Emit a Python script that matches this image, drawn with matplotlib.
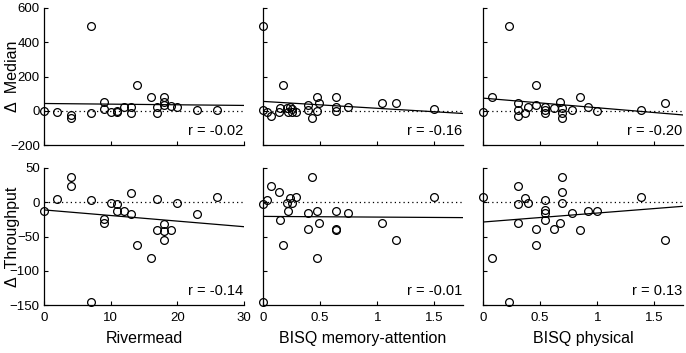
import matplotlib.pyplot as plt
import numpy as np

plt.rcParams['font.family'] = ['Liberation Sans', 'DejaVu Sans']

# x values (predictors)
riv_med = [0, 2, 4, 4, 7, 7, 9, 9, 10, 11, 11, 12, 13, 13, 14, 16, 17, 17, 18, 18, 18, 19, 20, 23, 26]
med_riv = [-4, -8, -23, -43, 493, -14, 49, 12, -8, -8, 0, 21, 21, -14, 148, 82, 21, -14, 82, 49, 35, 29, 21, 6, 6]
riv_thr = [0, 2, 4, 4, 7, 7, 9, 9, 10, 11, 11, 12, 13, 13, 14, 16, 17, 17, 18, 18, 18, 19, 20, 23, 26]
thr_riv = [-13.5, 5, 37, 23, 3, -146, -25, -30, -1.5, -2.5, -13.5, -13.5, -17, 13.5, -62, -82, 5, -40, -32, -42, -55, -40, -1.5, -17, 8]

mem_med = [0, 0, 0.035, 0.073, 0.14, 0.146, 0.175, 0.21, 0.22, 0.234, 0.25, 0.257, 0.29,
           0.395, 0.395, 0.43, 0.47, 0.47, 0.49, 0.64, 0.64, 0.64, 0.745, 1.04, 1.16, 1.5]
med_mem = [493, 6, -10, -29, -10, 16, 148, 16, -10, 21, 12, -10, -10,
           35, 6, -43, 82, -4, 45, 82, 21, -4, 21, 45, 45, 10]
mem_thr = [0, 0, 0.035, 0.073, 0.14, 0.146, 0.175, 0.21, 0.22, 0.24, 0.25, 0.29, 0.395,
           0.395, 0.43, 0.47, 0.47, 0.49, 0.64, 0.64, 0.64, 0.745, 1.04, 1.16, 1.5]
thr_mem = [-146, -2.4, 3.4, 23, 14.5, -25.6, -62, -1.5, -13, 5.8, -1.5, 7, -16,
           -39, 37, -81, -13, -30, -13, -39, -41, -16, -31, -55, 8]

phy_med = [0, 0.08, 0.23, 0.31, 0.31, 0.31, 0.37, 0.39, 0.46, 0.46, 0.545, 0.545, 0.545,
           0.62, 0.67, 0.69, 0.69, 0.69, 0.78, 0.85, 0.92, 1.0, 1.38, 1.59]
med_phy = [-10, 82, 493, 45, 2, -29, -14, 21, 148, 31, 21, 2, -14,
           16, 49, 16, -14, -43, 6, 82, 21, -4, 6, 45]
phy_thr = [0, 0.08, 0.23, 0.31, 0.31, 0.31, 0.37, 0.39, 0.46, 0.46, 0.545, 0.545, 0.545,
           0.545, 0.62, 0.67, 0.69, 0.69, 0.69, 0.78, 0.85, 0.92, 1.0, 1.38, 1.59]
thr_phy = [7, -81, -146, 23, -2.4, -30, 5.8, -1.5, -39, -62, 3.4, -12, -16,
           -25.6, -39, -31, 37, 14.5, -1.5, -16, -40, -13, -13, 8, -55]

r_med = ['r = -0.02', 'r = -0.16', 'r = -0.20']
r_thr = ['r = -0.14', 'r = -0.01', 'r = 0.13']
xlabels = ['Rivermead', 'BISQ memory-attention', 'BISQ physical']

fig = plt.figure(figsize=(6.86, 3.53), dpi=100)
W, H = 686, 353
lefts = [44, 263, 483]
width = 200
rows = [(8, 137), (168, 137)]

xdata = [[riv_med, mem_med, phy_med], [riv_thr, mem_thr, phy_thr]]
ydata = [[med_riv, med_mem, med_phy], [thr_riv, thr_mem, thr_phy]]
rtext = [r_med, r_thr]
xlims = [(0, 30), (0, 1.75), (0, 1.75)]
xticks = [[0, 10, 20, 30], [0, 0.5, 1, 1.5], [0, 0.5, 1, 1.5]]
xticklabels = [['0', '10', '20', '30'], ['0', '0.5', '1', '1.5'], ['0', '0.5', '1', '1.5']]
ylims = [(-200, 600), (-150, 50)]
yticks = [[-200, 0, 200, 400, 600], [-150, -100, -50, 0, 50]]
ylabels = ['Δ  Median', 'Δ  Throughput']

for i, (top, h) in enumerate(rows):
    for j, left in enumerate(lefts):
        ax = fig.add_axes([left / W, 1 - (top + h) / H, width / W, h / H])
        x = np.array(xdata[i][j], dtype=float)
        y = np.array(ydata[i][j], dtype=float)
        ax.plot(x, y, 'o', mfc='none', mec='k', ms=5.6, mew=0.9, clip_on=False, zorder=3)
        b, a = np.polyfit(x, y, 1)
        xx = np.array(xlims[j])
        ax.plot(xx, a + b * xx, 'k-', lw=0.9)
        ax.axhline(0, color='k', ls=(0, (1, 2.5)), lw=0.9)
        ax.set_xlim(*xlims[j])
        ax.set_ylim(*ylims[i])
        ax.set_xticks(xticks[j])
        ax.set_yticks(yticks[i])
        for s in ['top', 'right']:
            ax.spines[s].set_visible(False)
        for s in ['left', 'bottom']:
            ax.spines[s].set_linewidth(0.9)
        ax.tick_params(direction='in', length=3, width=0.8, labelsize=9.5, pad=3)
        ax.tick_params(axis='x', pad=5)
        if i == 0:
            ax.set_xticklabels([])
        else:
            ax.set_xticklabels(xticklabels[j])
            ax.set_xlabel(xlabels[j], fontsize=11.5, labelpad=5)
        if j == 0:
            ax.set_ylabel(ylabels[i], fontsize=11.5)
            ax.yaxis.set_label_coords(-0.12, 0.5)
        else:
            ax.set_yticklabels([])
        ax.text(0.995, 0.1, rtext[i][j], transform=ax.transAxes, ha='right',
                va='center', fontsize=10.5)

fig.savefig('out.png', dpi=100)
